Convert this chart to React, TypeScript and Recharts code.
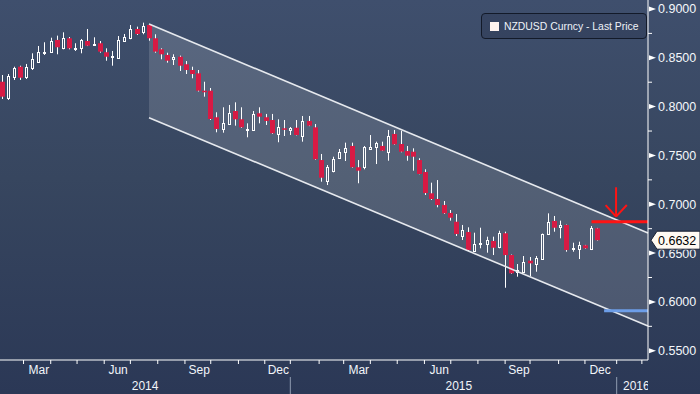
import React from 'react';
import { ComposedChart, Bar, Area, XAxis, YAxis, ReferenceLine, CartesianGrid, Legend } from 'recharts';

// ---- weekly OHLC ----
const opens = [
  0.8255, 0.8088, 0.8307, 0.8409, 0.8300, 0.8393, 0.8460, 0.8555, 0.8563, 0.8683,
  0.8597, 0.8700, 0.8597, 0.8597, 0.8672, 0.8636, 0.8649, 0.8557, 0.8511, 0.8501,
  0.8675, 0.8706, 0.8795, 0.8761, 0.8836, 0.8700, 0.8587, 0.8529, 0.8485, 0.8511,
  0.8434, 0.8375, 0.8341, 0.8163, 0.8163, 0.7891, 0.7768, 0.7822, 0.7955, 0.7870,
  0.7765, 0.7761, 0.7932, 0.7891, 0.7863, 0.7717, 0.7778, 0.7761, 0.7784, 0.7702,
  0.7853, 0.7788, 0.7453, 0.7241, 0.7344, 0.7471, 0.7538, 0.7597, 0.7379, 0.7379,
  0.7566, 0.7590, 0.7597, 0.7538, 0.7720, 0.7617, 0.7545, 0.7538, 0.7453, 0.7330,
  0.7112, 0.7054, 0.6992, 0.6911, 0.6821, 0.6675, 0.6716, 0.6524, 0.6598, 0.6593,
  0.6624, 0.6559, 0.6703, 0.6480, 0.6303, 0.6309, 0.6422, 0.6388, 0.6436, 0.6695,
  0.6829, 0.6764, 0.6788, 0.6539, 0.6539, 0.6580, 0.6539, 0.6754,
];
const highs = [
  0.8324, 0.8334, 0.8409, 0.8419, 0.8437, 0.8546, 0.8621, 0.8659, 0.8706, 0.8727,
  0.8761, 0.8713, 0.8649, 0.8693, 0.8795, 0.8710, 0.8672, 0.8597, 0.8570, 0.8723,
  0.8744, 0.8836, 0.8819, 0.8860, 0.8846, 0.8741, 0.8597, 0.8552, 0.8536, 0.8522,
  0.8467, 0.8409, 0.8375, 0.8255, 0.8191, 0.7942, 0.7993, 0.8017, 0.8044, 0.7993,
  0.7829, 0.7955, 0.7993, 0.7925, 0.7925, 0.7870, 0.7863, 0.7791, 0.7863, 0.7904,
  0.7904, 0.7822, 0.7515, 0.7402, 0.7487, 0.7566, 0.7631, 0.7631, 0.7453, 0.7597,
  0.7709, 0.7641, 0.7641, 0.7761, 0.7761, 0.7753, 0.7597, 0.7573, 0.7471, 0.7358,
  0.7221, 0.7248, 0.7033, 0.6941, 0.6900, 0.6788, 0.6764, 0.6709, 0.6760, 0.6668,
  0.6668, 0.6729, 0.6719, 0.6485, 0.6388, 0.6470, 0.6460, 0.6470, 0.6700, 0.6907,
  0.6880, 0.6832, 0.6792, 0.6606, 0.6617, 0.6584, 0.6777, 0.6758,
];
const lows = [
  0.8078, 0.8068, 0.8273, 0.8273, 0.8283, 0.8375, 0.8455, 0.8529, 0.8552, 0.8536,
  0.8587, 0.8587, 0.8570, 0.8546, 0.8620, 0.8632, 0.8552, 0.8470, 0.8419, 0.8497,
  0.8665, 0.8690, 0.8734, 0.8741, 0.8675, 0.8552, 0.8485, 0.8450, 0.8426, 0.8365,
  0.8334, 0.8290, 0.8155, 0.8102, 0.7863, 0.7737, 0.7733, 0.7812, 0.7805, 0.7781,
  0.7686, 0.7755, 0.7829, 0.7812, 0.7720, 0.7635, 0.7699, 0.7709, 0.7705, 0.7641,
  0.7800, 0.7455, 0.7231, 0.7197, 0.7327, 0.7464, 0.7443, 0.7374, 0.7215, 0.7358,
  0.7560, 0.7412, 0.7545, 0.7446, 0.7610, 0.7532, 0.7446, 0.7344, 0.7307, 0.7095,
  0.7044, 0.6969, 0.6900, 0.6832, 0.6675, 0.6634, 0.6521, 0.6521, 0.6549, 0.6504,
  0.6480, 0.6549, 0.6145, 0.6288, 0.6258, 0.6305, 0.6265, 0.6309, 0.6430, 0.6685,
  0.6719, 0.6651, 0.6514, 0.6514, 0.6439, 0.6545, 0.6531, 0.6628,
];
const closes = [
  0.8102, 0.8314, 0.8393, 0.8296, 0.8403, 0.8488, 0.8557, 0.8560, 0.8675, 0.8608,
  0.8700, 0.8597, 0.8602, 0.8683, 0.8624, 0.8639, 0.8563, 0.8511, 0.8514, 0.8683,
  0.8710, 0.8795, 0.8744, 0.8826, 0.8700, 0.8563, 0.8536, 0.8470, 0.8511, 0.8419,
  0.8375, 0.8334, 0.8163, 0.8147, 0.7873, 0.7771, 0.7829, 0.7932, 0.7870, 0.7788,
  0.7768, 0.7921, 0.7897, 0.7853, 0.7727, 0.7788, 0.7768, 0.7778, 0.7709, 0.7853,
  0.7805, 0.7461, 0.7272, 0.7379, 0.7467, 0.7538, 0.7573, 0.7379, 0.7344, 0.7583,
  0.7583, 0.7624, 0.7549, 0.7699, 0.7614, 0.7538, 0.7497, 0.7487, 0.7310, 0.7115,
  0.7054, 0.6992, 0.6907, 0.6862, 0.6695, 0.6736, 0.6531, 0.6593, 0.6602, 0.6634,
  0.6555, 0.6703, 0.6480, 0.6293, 0.6327, 0.6412, 0.6395, 0.6447, 0.6695, 0.6815,
  0.6760, 0.6788, 0.6531, 0.6549, 0.6583, 0.6549, 0.6754, 0.6632,
];

const SERIES_NAME = 'NZDUSD Curncy - Last Price';
const LAST_PRICE = 0.6632;

// axes (x in week-index units)
const X_DOMAIN: [number, number] = [-0.33, 105.2];
const Y_DOMAIN: [number, number] = [0.5405, 0.9092];
const yMajorTicks = [0.55, 0.6, 0.65, 0.7, 0.75, 0.8, 0.85, 0.9];
const yMinorTicks = [0.575, 0.625, 0.675, 0.725, 0.775, 0.825, 0.875];
const monthTickPos = [3.5, 7.93, 12.22, 16.64, 20.9, 25.36, 29.79, 33.99, 38.5, 42.79, 46.95, 51.64, 55.64, 59.98, 64.36, 68.79, 73.08, 77.5, 81.93, 85.99, 90.64, 94.93, 100.1, 104.2];
const quarterGridPos = [7.93, 20.9, 33.99, 46.95, 59.98, 73.08, 85.99, 100.1];
const monthLabelPos = [6.0, 18.9, 32.1, 45.0, 58.1, 71.2, 84.2, 97.4];
const monthLabelText = ['Mar', 'Jun', 'Sep', 'Dec', 'Mar', 'Jun', 'Sep', 'Dec'];
const yearLabelPos = [23.3, 74.4, 103.3];
const yearLabelText = ['2014', '2015', '2016'];
const yearSepPos = [46.95, 100.1];

// annotations
const channelPos = [23.94, 105.2];
const channelUpper = [0.8846, 0.6706];
const channelLower = [0.7887, 0.5753];
const resistancePos = [96.0, 105.2];
const resistanceValue = 0.6821;
const supportPos = [98.05, 105.2];
const supportValue = 0.591;
const arrowShaftPos = [100.0, 100.0];
const arrowShaftVal = [0.7174, 0.6873];
const arrowHeadPos = [98.3, 100.0, 101.75];
const arrowHeadVal = [0.6992, 0.6873, 0.6992];

const CHART_W = 700;
const CHART_H = 394;
const Y_AXIS_W = 52;
const X_AXIS_H = 34;
const FONT = '"Liberation Sans", Arial, Helvetica, sans-serif';
const RED = '#d71a44';

const candles = opens.map((o, i) => ({
  i,
  o,
  h: highs[i],
  l: lows[i],
  c: closes[i],
  range: [lows[i], highs[i]],
}));
const channelData = channelPos.map((p, k) => ({ i: p, band: [channelLower[k], channelUpper[k]] }));
const xTicks = Array.from(new Set([...monthTickPos, ...monthLabelPos, ...yearLabelPos]));
const yTicks = [...yMinorTicks, ...yMajorTicks, LAST_PRICE];

const findNear = (arr: number[], v: number) => arr.findIndex((a) => Math.abs(a - v) < 1e-6);

const Candle = (props: any) => {
  const { x, y, width, height, payload } = props;
  if (!payload || payload.o == null || !isFinite(y) || !isFinite(height)) return null;
  const { o, h, l, c } = payload;
  const k = height / (h - l);
  const cx = Math.floor(x + width / 2) + 0.5;
  const yHigh = y;
  const yLow = y + height;
  const yTop = y + (h - Math.max(o, c)) * k;
  const yBot = y + (h - Math.min(o, c)) * k;
  if (c >= o) {
    const top = Math.round(yTop) + 0.5;
    let bot = Math.round(yBot) + 0.5;
    if (bot - top < 1) bot = top + 1;
    return (
      <g>
        <line x1={cx} x2={cx} y1={yHigh} y2={top} stroke="#ffffff" strokeWidth={1} />
        <line x1={cx} x2={cx} y1={bot} y2={yLow} stroke="#ffffff" strokeWidth={1} />
        <rect x={cx - 1} y={top} width={2} height={bot - top} fill="none" stroke="#ffffff" strokeWidth={1} />
      </g>
    );
  }
  const bh = Math.max(1.5, yBot - yTop);
  return (
    <g>
      <line x1={cx} x2={cx} y1={yHigh} y2={yLow} stroke="#ffffff" strokeWidth={1} />
      <rect x={cx - 2.5} y={yTop} width={5} height={bh} fill={RED} />
    </g>
  );
};

const YTick = (props: any) => {
  const { x, y, payload } = props;
  const v = Number(payload?.value);
  if (Math.abs(v - LAST_PRICE) < 1e-9) {
    return (
      <g>
        <polygon
          points={`${x + 3},${y} ${x + 9},${y - 9} ${x + 52},${y - 9} ${x + 52},${y + 9} ${x + 9},${y + 9}`}
          fill="#fffaf2"
          stroke="#1b2233"
          strokeWidth={1}
        />
        <text x={x + 10} y={y} dy="0.36em" fill="#000000" fontSize={12.5} fontFamily={FONT}>
          {LAST_PRICE.toFixed(4)}
        </text>
      </g>
    );
  }
  if (findNear(yMajorTicks, v) >= 0) {
    return (
      <g>
        <polygon points={`${x + 1},${y - 2.5} ${x + 8},${y} ${x + 1},${y + 2.5}`} fill="#ffffff" />
        <text x={x + 10} y={y} dy="0.36em" fill="#f4f7fb" fontSize={12.5} fontFamily={FONT}>
          {v.toFixed(4)}
        </text>
      </g>
    );
  }
  return <line x1={x} x2={x + 4} y1={y} y2={y} stroke="#ffffff" strokeWidth={1} />;
};

const XTick = (props: any) => {
  const { x, y, payload } = props;
  const v = Number(payload?.value);
  const parts: any[] = [];
  if (findNear(monthTickPos, v) >= 0) {
    parts.push(<line key="t" x1={x} x2={x} y1={y} y2={y + 4} stroke="#ffffff" strokeWidth={1} />);
  }
  if (findNear(yearSepPos, v) >= 0) {
    parts.push(<line key="s" x1={x} x2={x} y1={y + 17} y2={y + 34} stroke="#8f9bb0" strokeWidth={1} />);
  }
  const ml = findNear(monthLabelPos, v);
  if (ml >= 0) {
    parts.push(
      <text key="m" x={x} y={y + 14} textAnchor="middle" fill="#f2f5fa" fontSize={12} fontFamily={FONT}>
        {monthLabelText[ml]}
      </text>
    );
  }
  const yl = findNear(yearLabelPos, v);
  if (yl >= 0) {
    const id = `yrclip${yl}`;
    parts.push(
      <g key="y">
        <defs>
          <clipPath id={id}>
            <rect x={-1000} y={0} width={1000 + CHART_W - Y_AXIS_W} height={CHART_H} />
          </clipPath>
        </defs>
        <text x={x} y={y + 30} textAnchor="middle" fill="#f2f5fa" fontSize={12} fontFamily={FONT} clipPath={`url(#${id})`}>
          {yearLabelText[yl]}
        </text>
      </g>
    );
  }
  return <g>{parts}</g>;
};

const LegendBox = () => (
  <div
    style={{
      width: 166,
      height: 26,
      boxSizing: 'border-box',
      border: '1px solid #131a29',
      borderRadius: 4,
      background: 'rgba(30,40,62,0.25)',
      display: 'flex',
      alignItems: 'center',
      paddingLeft: 8,
      fontFamily: FONT,
      fontSize: 10.4,
      color: '#eef2f8',
      whiteSpace: 'nowrap',
      overflow: 'hidden',
    }}
  >
    <span style={{ display: 'inline-block', width: 9, height: 9, background: '#fff4f0', marginRight: 5, flex: '0 0 auto' }} />
    {SERIES_NAME}
  </div>
);

export default function App() {
  return (
    <div
      style={{
        position: 'absolute',
        left: 0,
        top: 0,
        width: CHART_W,
        height: CHART_H,
        background: 'linear-gradient(180deg, #3f4f6d 0%, #37465f 45%, #2b3856 100%)',
        fontFamily: FONT,
      }}
    >
      <ComposedChart width={CHART_W} height={CHART_H} data={candles} margin={{ top: 0, right: 0, bottom: 0, left: 0 }}>
        <CartesianGrid
          stroke="#557492"
          strokeDasharray="3 3"
          fill="none"
          horizontalCoordinatesGenerator={(p: any) => {
            const s = p?.yAxis?.scale;
            return typeof s === 'function' ? yMajorTicks.map((t) => s(t)) : [];
          }}
          verticalCoordinatesGenerator={(p: any) => {
            const s = p?.xAxis?.scale;
            return typeof s === 'function' ? quarterGridPos.map((t) => s(t)) : [];
          }}
        />
        <XAxis
          dataKey="i"
          type="number"
          domain={X_DOMAIN}
          allowDataOverflow
          ticks={xTicks}
          interval={0}
          tick={<XTick />}
          tickLine={false}
          tickSize={0}
          tickMargin={0}
          height={X_AXIS_H}
          axisLine={{ stroke: '#ffffff', strokeWidth: 1 }}
        />
        <YAxis
          orientation="right"
          type="number"
          domain={Y_DOMAIN}
          allowDataOverflow
          ticks={yTicks}
          interval={0}
          tick={<YTick />}
          tickLine={false}
          tickSize={0}
          tickMargin={0}
          width={Y_AXIS_W}
          axisLine={{ stroke: '#ffffff', strokeWidth: 1 }}
        />
        <Bar dataKey="range" barSize={6} shape={<Candle />} isAnimationActive={false} />
        <Area
          data={channelData}
          dataKey="band"
          type="linear"
          fill="#ffffff"
          fillOpacity={0.14}
          stroke="none"
          dot={false}
          activeDot={false}
          isAnimationActive={false}
        />
        <ReferenceLine
          segment={[{ x: channelPos[0], y: channelUpper[0] }, { x: channelPos[1], y: channelUpper[1] }]}
          stroke="#e6e9ee"
          strokeWidth={1.6}
          ifOverflow="visible"
        />
        <ReferenceLine
          segment={[{ x: channelPos[0], y: channelLower[0] }, { x: channelPos[1], y: channelLower[1] }]}
          stroke="#e6e9ee"
          strokeWidth={1.6}
          ifOverflow="visible"
        />
        <ReferenceLine
          segment={[{ x: resistancePos[0], y: resistanceValue }, { x: resistancePos[1], y: resistanceValue }]}
          stroke="#ff1414"
          strokeWidth={3}
          ifOverflow="visible"
        />
        <ReferenceLine
          segment={[{ x: supportPos[0], y: supportValue }, { x: supportPos[1], y: supportValue }]}
          stroke="#6d9ee8"
          strokeWidth={3}
          ifOverflow="visible"
        />
        <ReferenceLine
          segment={[{ x: arrowShaftPos[0], y: arrowShaftVal[0] }, { x: arrowShaftPos[1], y: arrowShaftVal[1] }]}
          stroke="#ff1414"
          strokeWidth={2}
          ifOverflow="visible"
        />
        <ReferenceLine
          segment={[{ x: arrowHeadPos[0], y: arrowHeadVal[0] }, { x: arrowHeadPos[1], y: arrowHeadVal[1] }]}
          stroke="#ff1414"
          strokeWidth={2}
          ifOverflow="visible"
        />
        <ReferenceLine
          segment={[{ x: arrowHeadPos[1], y: arrowHeadVal[1] }, { x: arrowHeadPos[2], y: arrowHeadVal[2] }]}
          stroke="#ff1414"
          strokeWidth={2}
          ifOverflow="visible"
        />
        <Legend
          layout="vertical"
          align="center"
          verticalAlign="middle"
          wrapperStyle={{ left: 481, top: 13, width: 166, height: 26 }}
          content={<LegendBox />}
        />
      </ComposedChart>
    </div>
  );
}
